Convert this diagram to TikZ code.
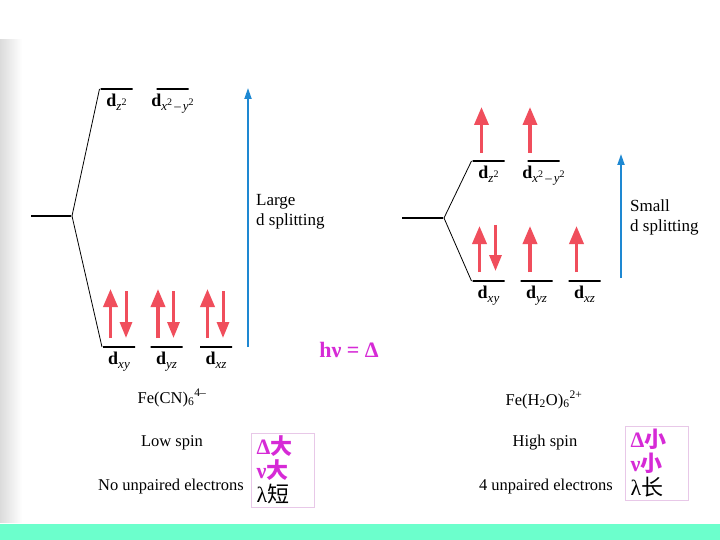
\documentclass[tikz,border=0pt]{standalone}
\usepackage{fontspec}
\setmainfont{Liberation Serif}
\newfontfamily\cjk{Noto Sans CJK SC}
\usetikzlibrary{arrows.meta,positioning}
\definecolor{Spin}{HTML}{F04E5C}
\definecolor{Gap}{HTML}{1E88D2}
\definecolor{Magenta}{HTML}{D62AD6}
\definecolor{BoxLine}{HTML}{E8C8E8}
\definecolor{Strip}{HTML}{6CFFCC}
\newcommand{\orb}[1]{\textbf{d}\raisebox{-0.45ex}{\fontsize{13}{13}\selectfont\itshape #1}}
\newcommand{\sq}{\raisebox{0.9ex}{\fontsize{10}{10}\selectfont\upshape 2}}

\begin{document}
\begin{tikzpicture}[x=1pt,y=-1pt,
  level/.style={draw,line width=2pt,minimum width=32pt,minimum height=0pt,inner sep=0pt},
  orbital/.style={font=\fontsize{18}{18}\selectfont,inner sep=0pt,below=5pt},
  split/.style={line width=0.8pt},
  spinup/.style={draw=Spin,line width=3.6pt,-{Triangle[length=18pt,width=14pt]}},
  spindown/.style={draw=Spin,line width=3pt,-{Triangle[length=16pt,width=12pt]}},
  gap/.style={draw=Gap,line width=1.8pt,-{Triangle[length=11pt,width=7pt]}},
  gaptext/.style={font=\fontsize{17}{20}\selectfont,align=left,anchor=west,inner sep=0pt},
  info/.style={font=\fontsize{16.5}{18}\selectfont,inner sep=0pt},
  trend/.style={draw=BoxLine,line width=0.8pt,align=left,text width=52pt,minimum width=63pt,
    inner sep=3pt,font=\fontsize{22}{24}\selectfont}
]
\useasboundingbox (0,0) rectangle (720,540);
\fill[white] (0,0) rectangle (720,540);
\shade[left color=black!14,right color=white] (0,40) rectangle (22,522);
\fill[Strip] (0,524) rectangle (720,540);

% low spin
\node[level,minimum width=40pt] (C1) at (51,216) {};
\node[level] (Lz2) at (116.5,89) {};
\node[level] (Lx2) at (172.5,89) {};
\node[level] (Lxy) at (119,347) {};
\node[level] (Lyz) at (166.5,347) {};
\node[level] (Lxz) at (216,347) {};
\node[orbital] at (Lz2) {\orb{z\sq}};
\node[orbital] at (Lx2) {\orb{x\sq\,–\,y\sq}};
\node[orbital] at (Lxy) {\orb{xy}};
\node[orbital] at (Lyz) {\orb{yz}};
\node[orbital] at (Lxz) {\orb{xz}};
\draw[split] (C1.east) -- (Lz2.west);
\draw[split] (C1.east) -- (Lxy.west);
\foreach \lv in {Lxy,Lyz,Lxz}{
  \draw[spinup] ([xshift=-8.5pt,yshift=9pt]\lv.center) -- ++(0,-49);
  \draw[spindown] ([xshift=7pt,yshift=56pt]\lv.center) -- ++(0,47);
}
\coordinate (g1b) at (248,347);
\coordinate (g1t) at (248,88);
\draw[gap] (g1b) -- (g1t);
\node[gaptext] (big) at (256,212) {Large\\d splitting};

% high spin
\node[level,minimum width=41pt] (C2) at (422.5,218) {};
\node[level] (Rz2) at (488.5,161) {};
\node[level] (Rx2) at (543.5,161) {};
\node[level] (Rxy) at (488.5,281) {};
\node[level] (Ryz) at (536.5,281) {};
\node[level] (Rxz) at (584.5,281) {};
\node[orbital] at (Rz2) {\orb{z\sq}};
\node[orbital] at (Rx2) {\orb{x\sq\,–\,y\sq}};
\node[orbital] at (Rxy) {\orb{xy}};
\node[orbital] at (Ryz) {\orb{yz}};
\node[orbital] at (Rxz) {\orb{xz}};
\draw[split] (C2.east) -- (Rz2.west);
\draw[split] (C2.east) -- (Rxy.west);
\draw[spinup] ([xshift=-7pt,yshift=8pt]Rz2.center) -- ++(0,-46);
\draw[spinup] ([xshift=-13.5pt,yshift=8pt]Rx2.center) -- ++(0,-46);
\draw[spinup] ([xshift=-9pt,yshift=9pt]Rxy.center) -- ++(0,-46);
\draw[spindown] ([xshift=7pt,yshift=56pt]Rxy.center) -- ++(0,46);
\draw[spinup] ([xshift=-6.5pt,yshift=9pt]Ryz.center) -- ++(0,-46);
\draw[spinup] ([xshift=-8pt,yshift=9pt]Rxz.center) -- ++(0,-46);
\coordinate (g2b) at (621,278);
\coordinate (g2t) at (621,154);
\draw[gap] (g2b) -- (g2t);
\node[gaptext] (small) at (630,217) {Small\\d splitting};

\node[font=\fontsize{22}{22}\selectfont\bfseries,text=Magenta] (hv) at (349,350) {hν = Δ};

\node[info] (ion1) at (172,398) {Fe(CN)\textsubscript{6}\textsuperscript{4–}};
\node[info] (spin1) at (172,443) {Low spin};
\node[info] (pair1) at (171,487) {No unpaired electrons};
\node[trend] (box1) at (282.5,470) {{\color{Magenta}\textbf{Δ}\cjk\bfseries 大}\\{\color{Magenta}\textbf{ν}\cjk\bfseries 大}\\λ{\cjk 短}};

\node[info] (ion2) at (544,400) {Fe(H\textsubscript{2}O)\textsubscript{6}\textsuperscript{2+}};
\node[info] (spin2) at (545,443) {High spin};
\node[info] (pair2) at (546,487) {4 unpaired electrons};
\node[trend] (box2) at (656.5,463) {{\color{Magenta}\textbf{Δ}\cjk\bfseries 小}\\{\color{Magenta}\textbf{ν}\cjk\bfseries 小}\\λ{\cjk 长}};
\end{tikzpicture}
\end{document}
